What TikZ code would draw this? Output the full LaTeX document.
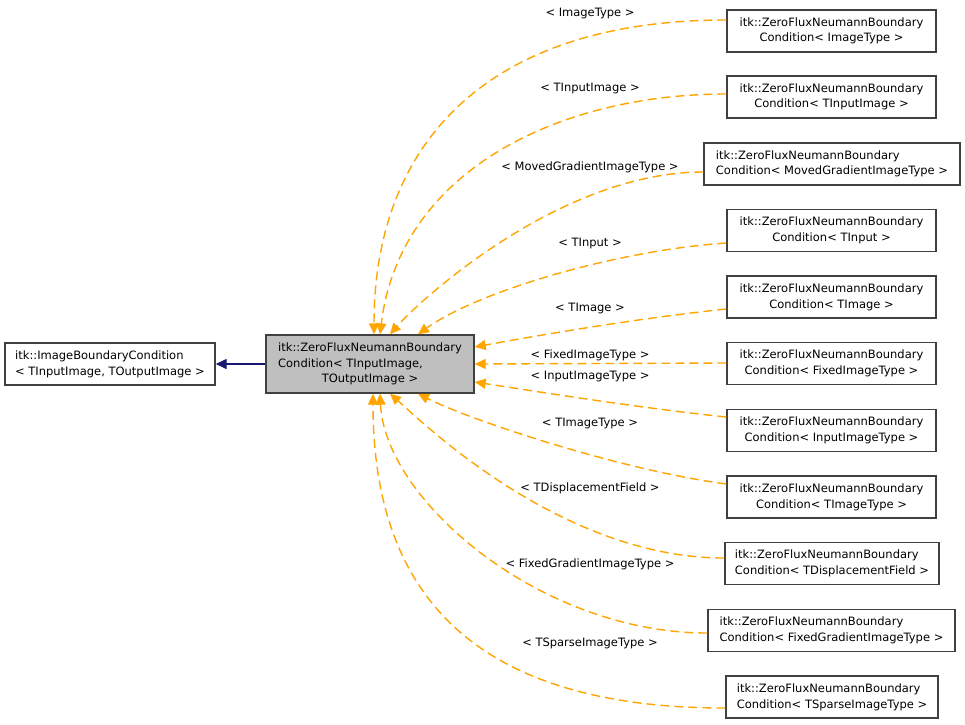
\documentclass[tikz,border=0pt]{standalone}
\usepackage{fontspec}
\setmainfont{DejaVu Sans}
\usetikzlibrary{arrows.meta}
\definecolor{edgeor}{HTML}{FFA500}
\definecolor{boxgray}{HTML}{BFBFBF}
\definecolor{boxline}{HTML}{404040}
\definecolor{inhblue}{HTML}{191970}
\newcommand{\twoline}[2]{\begin{tabular}{@{}l@{}}#1\\\multicolumn{1}{@{}c@{}}{#2}\end{tabular}}
\begin{document}
\begin{tikzpicture}[x=1pt,y=-1pt,
  font=\fontsize{11.5}{15.7}\selectfont,
  cls/.style={draw=boxline, line width=1.4pt, fill=white, inner sep=0pt, minimum height=42pt, minimum width=209pt},
  tmpl/.style={draw=edgeor, dash pattern=on 9pt off 5pt, line width=1.4pt, -{Triangle[length=11pt,width=10pt,fill=edgeor]}},
  inh/.style={draw=inhblue, line width=1.4pt, -{Triangle[length=11pt,width=10pt,fill=inhblue]}},
  lbl/.style={inner sep=0pt}]
\useasboundingbox[fill=white] (0,0) rectangle (965,724);

\node[cls, minimum width=210pt] (base) at (110,364) {\twoline{itk::ImageBoundaryCondition}{< TInputImage, TOutputImage >}};
\node[cls, fill=boxgray, minimum width=208pt, minimum height=58pt] (c) at (370,364)
  {\begin{tabular}{@{}l@{}}itk::ZeroFluxNeumannBoundary\\Condition< TInputImage,\\\multicolumn{1}{@{}c@{}}{TOutputImage >}\end{tabular}};

\node[cls] (r1) at (831.5,31) {\twoline{itk::ZeroFluxNeumannBoundary}{Condition< ImageType >}};
\node[cls] (r2) at (831.5,97) {\twoline{itk::ZeroFluxNeumannBoundary}{Condition< TInputImage >}};
\node[cls, minimum width=256pt] (r3) at (832,164) {\twoline{itk::ZeroFluxNeumannBoundary}{Condition< MovedGradientImageType >}};
\node[cls] (r4) at (831.5,230.5) {\twoline{itk::ZeroFluxNeumannBoundary}{Condition< TInput >}};
\node[cls] (r5) at (831.5,297) {\twoline{itk::ZeroFluxNeumannBoundary}{Condition< TImage >}};
\node[cls] (r6) at (831.5,363.5) {\twoline{itk::ZeroFluxNeumannBoundary}{Condition< FixedImageType >}};
\node[cls] (r7) at (831.5,430.5) {\twoline{itk::ZeroFluxNeumannBoundary}{Condition< InputImageType >}};
\node[cls] (r8) at (831.5,497) {\twoline{itk::ZeroFluxNeumannBoundary}{Condition< TImageType >}};
\node[cls, minimum width=214pt] (r9) at (832,563.5) {\twoline{itk::ZeroFluxNeumannBoundary}{Condition< TDisplacementField >}};
\node[cls, minimum width=247pt] (r10) at (831.5,630.5) {\twoline{itk::ZeroFluxNeumannBoundary}{Condition< FixedGradientImageType >}};
\node[cls, minimum width=212pt] (r11) at (832,697) {\twoline{itk::ZeroFluxNeumannBoundary}{Condition< TSparseImageType >}};

\draw[inh] (c.west) -- (base.east);

\draw[tmpl] (r1.west |- 0,20) .. controls (480,20) and (374,150) .. (c.north -| 374,0);
\draw[tmpl] (r2.west |- 0,94) .. controls (560,94) and (400,170) .. (c.north -| 380,0);
\draw[tmpl] (r3.west |- 0,172) .. controls (560,172) and (420,300) .. (c.north -| 390,0);
\draw[tmpl] (r4.west |- 0,243) .. controls (620,250) and (480,290) .. (c.north -| 418,0);
\draw[tmpl] (r5.west |- 0,309) .. controls (640,318) and (540,335) .. (c.east |- 0,347);
\draw[tmpl] (r6.west |- 0,363) -- (c.east |- 0,364);
\draw[tmpl] (r7.west |- 0,417) .. controls (640,408) and (540,392) .. (c.east |- 0,382);
\draw[tmpl] (r8.west |- 0,484) .. controls (620,470) and (470,420) .. (c.south -| 418,0);
\draw[tmpl] (r9.west |- 0,558) .. controls (560,558) and (420,420) .. (c.south -| 390,0);
\draw[tmpl] (r10.west |- 0,633) .. controls (540,633) and (385,500) .. (c.south -| 380,0);
\draw[tmpl] (r11.west |- 0,708) .. controls (480,708) and (373,600) .. (c.south -| 373,0);

\node[lbl] (l1) at (590,13) {< ImageType >};
\node[lbl] (l2) at (590,88) {< TInputImage >};
\node[lbl] (l3) at (590,167) {< MovedGradientImageType >};
\node[lbl] (l4) at (590,243) {< TInput >};
\node[lbl] (l5) at (590,308) {< TImage >};
\node[lbl] (l6) at (590,355) {< FixedImageType >};
\node[lbl] (l7) at (590,376) {< InputImageType >};
\node[lbl] (l8) at (590,423) {< TImageType >};
\node[lbl] (l9) at (590,488) {< TDisplacementField >};
\node[lbl] (l10) at (590,564) {< FixedGradientImageType >};
\node[lbl] (l11) at (590,643) {< TSparseImageType >};
\end{tikzpicture}
\end{document}
